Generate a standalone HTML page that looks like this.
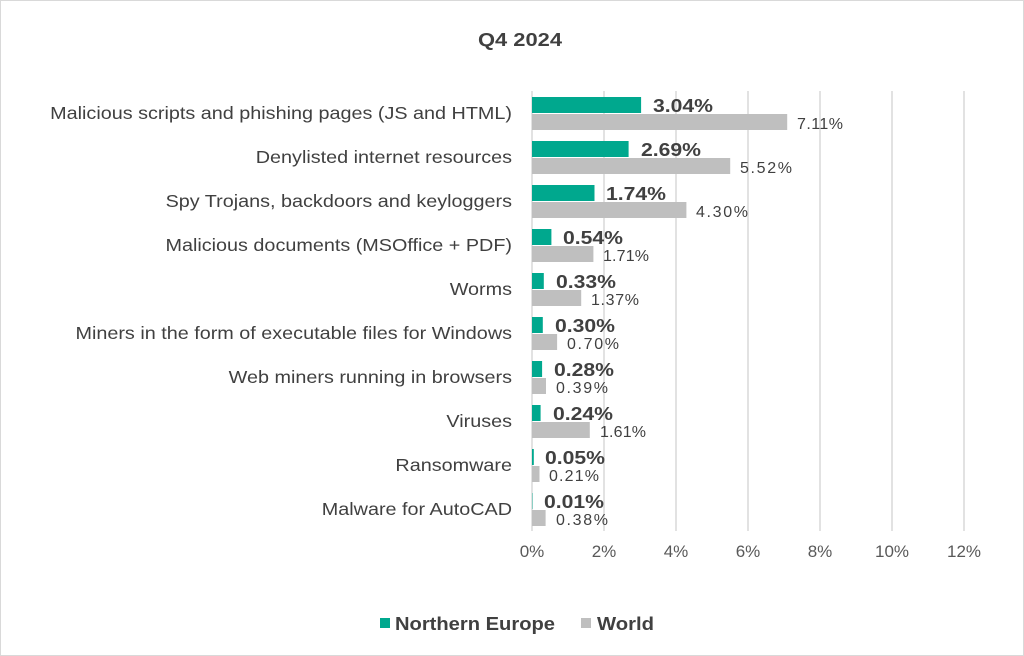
<!DOCTYPE html>
<html><head><meta charset="utf-8"><style>
body{margin:0;background:#fff}
svg{display:block;font-family:"Liberation Sans",sans-serif}
</style></head><body>
<svg width="1024" height="656" xmlns="http://www.w3.org/2000/svg">
<rect x="0.5" y="0.5" width="1023" height="655" fill="#fff" stroke="#d9d9d9"/>
<text x="520" y="46" text-anchor="middle" font-size="18" font-weight="bold" fill="#404040" textLength="84" lengthAdjust="spacingAndGlyphs">Q4 2024</text>
<g stroke="#d9d9d9" stroke-width="1.5">
<line x1="532" y1="91" x2="532" y2="531"/><line x1="604" y1="91" x2="604" y2="531"/><line x1="676" y1="91" x2="676" y2="531"/><line x1="748" y1="91" x2="748" y2="531"/><line x1="820" y1="91" x2="820" y2="531"/><line x1="892" y1="91" x2="892" y2="531"/><line x1="964" y1="91" x2="964" y2="531"/>
</g>
<g font-size="17" fill="#595959" text-anchor="middle">
<text x="532" y="557">0%</text><text x="604" y="557">2%</text><text x="676" y="557">4%</text><text x="748" y="557">6%</text><text x="820" y="557">8%</text><text x="892" y="557">10%</text><text x="964" y="557">12%</text>
</g>
<g font-size="18" fill="#404040" text-anchor="end" transform="translate(512,0) scale(1.1,1) translate(-512,0)">
<text x="512" y="119">Malicious scripts and phishing pages (JS and HTML)</text>
<text x="512" y="163">Denylisted internet resources</text>
<text x="512" y="207">Spy Trojans, backdoors and keyloggers</text>
<text x="512" y="251">Malicious documents (MSOffice + PDF)</text>
<text x="512" y="295">Worms</text>
<text x="512" y="339">Miners in the form of executable files for Windows</text>
<text x="512" y="383">Web miners running in browsers</text>
<text x="512" y="427">Viruses</text>
<text x="512" y="471">Ransomware</text>
<text x="512" y="515">Malware for AutoCAD</text>
</g>
<g fill="#00a88e">
<rect x="532" y="97" width="109.1" height="16"/>
<rect x="532" y="141" width="96.6" height="16"/>
<rect x="532" y="185" width="62.5" height="16"/>
<rect x="532" y="229" width="19.4" height="16"/>
<rect x="532" y="273" width="11.8" height="16"/>
<rect x="532" y="317" width="10.8" height="16"/>
<rect x="532" y="361" width="10.1" height="16"/>
<rect x="532" y="405" width="8.6" height="16"/>
<rect x="532" y="449" width="1.8" height="16"/>
<rect x="532" y="493" width="0.4" height="16"/>
</g>
<g fill="#bfbfbf">
<rect x="532" y="114" width="255.2" height="16"/>
<rect x="532" y="158" width="198.2" height="16"/>
<rect x="532" y="202" width="154.4" height="16"/>
<rect x="532" y="246" width="61.4" height="16"/>
<rect x="532" y="290" width="49.2" height="16"/>
<rect x="532" y="334" width="25.1" height="16"/>
<rect x="532" y="378" width="14.0" height="16"/>
<rect x="532" y="422" width="57.8" height="16"/>
<rect x="532" y="466" width="7.5" height="16"/>
<rect x="532" y="510" width="13.6" height="16"/>
</g>
<g font-size="18" font-weight="bold" fill="#404040">
<text x="653" y="112" textLength="60" lengthAdjust="spacingAndGlyphs">3.04%</text>
<text x="641" y="156" textLength="60" lengthAdjust="spacingAndGlyphs">2.69%</text>
<text x="606" y="200" textLength="60" lengthAdjust="spacingAndGlyphs">1.74%</text>
<text x="563" y="244" textLength="60" lengthAdjust="spacingAndGlyphs">0.54%</text>
<text x="556" y="288" textLength="60" lengthAdjust="spacingAndGlyphs">0.33%</text>
<text x="555" y="332" textLength="60" lengthAdjust="spacingAndGlyphs">0.30%</text>
<text x="554" y="376" textLength="60" lengthAdjust="spacingAndGlyphs">0.28%</text>
<text x="553" y="420" textLength="60" lengthAdjust="spacingAndGlyphs">0.24%</text>
<text x="545" y="464" textLength="60" lengthAdjust="spacingAndGlyphs">0.05%</text>
<text x="544" y="508" textLength="60" lengthAdjust="spacingAndGlyphs">0.01%</text>
</g>
<g font-size="16" fill="#404040">
<text x="797" y="129" textLength="46">7.11%</text>
<text x="740" y="173" textLength="52">5.52%</text>
<text x="696" y="217" textLength="52">4.30%</text>
<text x="603" y="261" textLength="46">1.71%</text>
<text x="591" y="305" textLength="48">1.37%</text>
<text x="567" y="349" textLength="52">0.70%</text>
<text x="556" y="393" textLength="52">0.39%</text>
<text x="600" y="437" textLength="46">1.61%</text>
<text x="549" y="481" textLength="50">0.21%</text>
<text x="556" y="525" textLength="52">0.38%</text>
</g>
<rect x="380" y="618" width="10" height="10" fill="#00a88e"/>
<text x="395" y="630" font-size="18" font-weight="bold" fill="#404040" textLength="160" lengthAdjust="spacingAndGlyphs">Northern Europe</text>
<rect x="581" y="618" width="10" height="10" fill="#bfbfbf"/>
<text x="597" y="630" font-size="18" font-weight="bold" fill="#404040" textLength="57" lengthAdjust="spacingAndGlyphs">World</text>
</svg>
</body></html>
